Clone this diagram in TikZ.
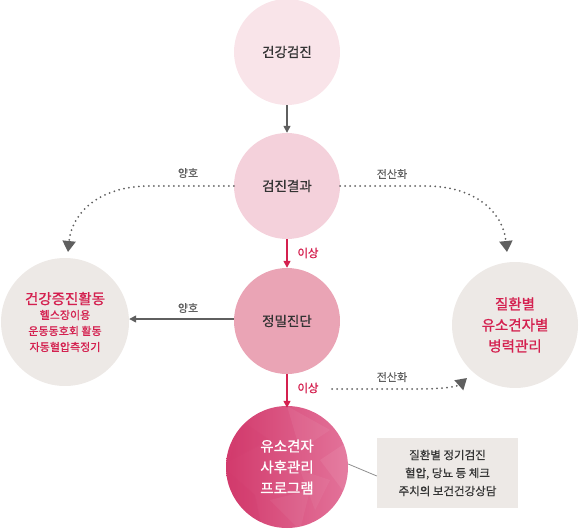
\documentclass[tikz,border=0pt]{standalone}
\usepackage{fontspec}
\setmainfont{Noto Sans CJK KR}
\newfontfamily\medf{Noto Sans CJK KR}[FakeBold=0.9]
\newfontfamily\semf{Noto Sans CJK KR}[FakeBold=0.4]
\usetikzlibrary{arrows.meta,shadings}
\definecolor{cA}{HTML}{F9E4E9}
\definecolor{cB}{HTML}{F4D1DB}
\definecolor{cC}{HTML}{EAA4B5}
\definecolor{cD}{HTML}{DB5483}
\definecolor{cDd}{HTML}{D23A6C}
\definecolor{cDl}{HTML}{E3739A}
\definecolor{cG}{HTML}{EDE9E6}
\definecolor{cRed}{HTML}{D4204F}
\definecolor{cTxt}{HTML}{333333}
\definecolor{cArr}{HTML}{5F5F5F}
\tikzset{
  bub/.style={circle, inner sep=0pt, align=center, text=cTxt, font=\medf\fontsize{13.5}{16}\selectfont},
  lbl/.style={inner sep=0pt, text=cArr, font=\semf\fontsize{11}{12}\selectfont},
  redlbl/.style={inner sep=0pt, text=cRed, font=\medf\fontsize{11.5}{12}\selectfont},
  solidarr/.style={draw=cArr, line width=1.4pt, -{Triangle[length=7pt,width=7pt]}},
  redarr/.style={draw=cRed, line width=1.4pt, -{Triangle[length=7pt,width=7pt]}},
  dotarr/.style={draw=cArr, line width=2pt, line cap=round, dash pattern=on 0pt off 5pt, -{Triangle[length=11pt,width=13pt]}},
}
\begin{document}
\begin{tikzpicture}[x=1pt,y=-1pt]
\useasboundingbox (0,0) rectangle (580,529);
% circles
\node[bub, fill=cA, minimum size=106pt] (c1) at (287,52) {건강검진};
\node[bub, fill=cB, minimum size=106pt] (c2) at (287,186) {검진결과};
\node[bub, fill=cC, minimum size=106pt] (c3) at (287,321) {정밀진단};
\shade[left color=cDd, right color=cDl] (287,467) circle (61);
\begin{scope}
\clip (287,467) circle (61);
\fill[cDd, opacity=0.25] (226,470) -- (255,495) -- (262,530) -- (226,530) -- cycle;
\fill[white, opacity=0.06] (287,406) -- (330,430) -- (300,450) -- cycle;
\fill[white, opacity=0.07] (320,460) -- (350,440) -- (350,500) -- cycle;
\fill[cDd, opacity=0.15] (240,420) -- (270,440) -- (230,460) -- cycle;
\fill[white, opacity=0.05] (270,500) -- (310,490) -- (300,530) -- cycle;
\fill[white, opacity=0.05] (300,470) -- (330,480) -- (315,510) -- cycle;
\end{scope}
\node[bub, minimum size=122pt, text=white, font=\medf\fontsize{14.5}{21}\selectfont] (c4) at (287,467) {유소견자\\사후관리\\프로그램};
\node[bub, fill=cG, minimum size=128pt, text=cRed] (lc) at (65,322) {{\fontsize{14.5}{20}\selectfont 건강증진활동}\\[-1pt]{\fontsize{11}{19}\selectfont 헬스장이용}\\{\fontsize{11}{19}\selectfont 운동동호회 활동}\\{\fontsize{11}{19}\selectfont 자동혈압측정기}};
\node[bub, fill=cG, minimum size=126pt, text=cRed, font=\medf\fontsize{14.5}{21}\selectfont] (rc) at (515,325) {질환별\\유소견자별\\병력관리};
\node[fill=cG, minimum width=141pt, minimum height=70pt, inner sep=0pt, align=center, text=cTxt, font=\semf\fontsize{11.5}{18}\selectfont] (box) at (447.5,473) {질환별 정기검진\\혈압, 당뇨 등 체크\\주치의 보건건강상담};
% connectors
\draw[solidarr] (c1.south) -- (c2.north);
\draw[redarr] (c2.south) -- (c3.north);
\draw[redarr] (c3.south) -- ([yshift=-2pt]c4.north);
\draw[solidarr] ([yshift=2pt]c3.west) -- ([yshift=2pt]c3.west -| lc.east);
\draw[draw=cArr!70, line width=0.8pt] ([yshift=3pt]c4.east) -- ([yshift=-3pt]box.west);
\coordinate (t1) at (68,252);
\coordinate (t2) at (507,252);
\coordinate (t3) at (467,378);
\coordinate (s3) at (332,389);
\draw[dotarr] (c2.west) -- (150,186) .. controls (100,186) and (72,212) .. (t1);
\draw[dotarr] (c2.east) -- (425,186) .. controls (475,186) and (503,212) .. (t2);
\draw[dotarr] (s3) -- (420,389) .. controls (445,389) and (458,386) .. (t3);
% labels
\node[lbl] (l1) at (188,173) {양호};
\node[lbl] (l2) at (392,174) {전산화};
\node[lbl] (l3) at (188,308) {양호};
\node[lbl] (l4) at (392,377) {전산화};
\node[redlbl] (r1) at (308,253) {이상};
\node[redlbl] (r2) at (308,388) {이상};
\end{tikzpicture}
\end{document}
